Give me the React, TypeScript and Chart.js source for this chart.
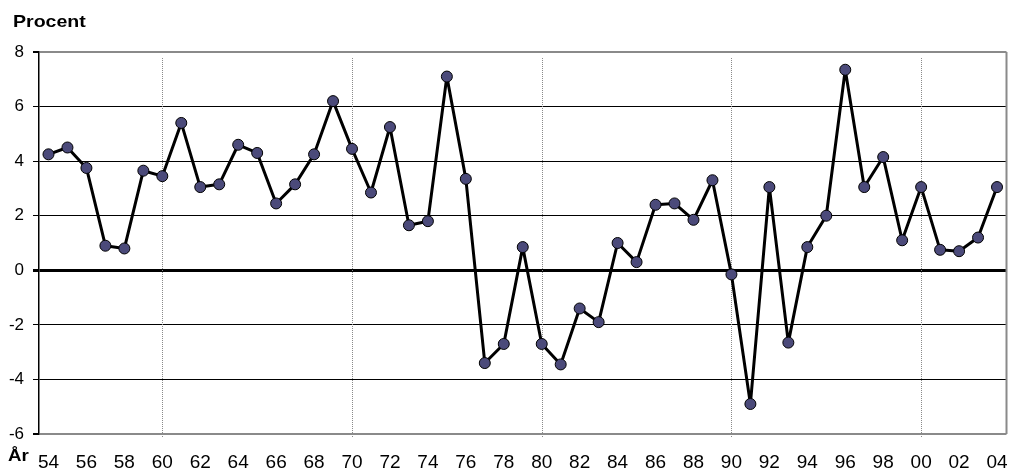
import React, { useEffect, useRef } from "react";
import { Chart, registerables } from "chart.js";

Chart.register(...registerables);

const years = [
  "54", "55", "56", "57", "58", "59", "60", "61", "62", "63",
  "64", "65", "66", "67", "68", "69", "70", "71", "72", "73",
  "74", "75", "76", "77", "78", "79", "80", "81", "82", "83",
  "84", "85", "86", "87", "88", "89", "90", "91", "92", "93",
  "94", "95", "96", "97", "98", "99", "00", "01", "02", "03", "04",
];

const values = [
  4.25, 4.5, 3.75, 0.9, 0.8, 3.65, 3.45, 5.4, 3.05, 3.15,
  4.6, 4.3, 2.45, 3.15, 4.25, 6.2, 4.45, 2.85, 5.25, 1.65,
  1.8, 7.1, 3.35, -3.4, -2.7, 0.85, -2.7, -3.45, -1.4, -1.9,
  1.0, 0.3, 2.4, 2.45, 1.85, 3.3, -0.15, -4.9, 3.05, -2.65,
  0.85, 2.0, 7.35, 3.05, 4.15, 1.1, 3.05, 0.75, 0.7, 1.2, 3.05,
];

const decadeLabels = ["60", "70", "80", "90", "00"];

const yMin = -6;
const yMax = 8;
const yStep = 2;

const FONT = '"Liberation Sans", Arial, sans-serif';

const decadePlugin = {
  id: "decadeLines",
  beforeDatasetsDraw(chart: any) {
    const { ctx, chartArea, scales } = chart;
    const x = scales.x;
    ctx.save();
    ctx.strokeStyle = "#8a8a8a";
    ctx.lineWidth = 1;
    ctx.setLineDash([1, 1]);
    decadeLabels.forEach((lab) => {
      const idx = years.indexOf(lab);
      const px = Math.round(x.getPixelForValue(idx)) + 0.5;
      ctx.beginPath();
      ctx.moveTo(px, chartArea.top + 6);
      ctx.lineTo(px, chartArea.bottom + 3);
      ctx.stroke();
    });
    ctx.setLineDash([]);
    ctx.strokeStyle = "#8a8a8a";
    ctx.lineWidth = 2;
    ctx.beginPath();
    ctx.moveTo(chartArea.right, chartArea.top);
    ctx.lineTo(chartArea.right, chartArea.bottom);
    ctx.stroke();
    ctx.restore();
  },
};

export default function App() {
  const ref = useRef<HTMLCanvasElement | null>(null);

  useEffect(() => {
    if (!ref.current) return;
    const chart = new Chart(ref.current, {
      type: "line",
      data: {
        labels: years,
        datasets: [
          {
            data: values,
            borderColor: "#000000",
            borderWidth: 3,
            borderJoinStyle: "round",
            borderCapStyle: "round",
            pointRadius: 5.5,
            pointBackgroundColor: "#4b4a7a",
            pointBorderColor: "#000000",
            pointBorderWidth: 1,
            tension: 0,
          },
        ],
      },
      options: {
        responsive: false,
        animation: false,
        devicePixelRatio: 1,
        layout: { padding: { top: 52, right: 1, left: 0, bottom: 0 } },
        plugins: {
          legend: { display: false },
          tooltip: { enabled: false },
        },
        scales: {
          x: {
            type: "category",
            offset: true,
            grid: { display: false },
            border: { display: false },
            ticks: {
              autoSkip: false,
              maxRotation: 0,
              minRotation: 0,
              padding: 9,
              color: "#000",
              font: { family: FONT, size: 19 },
              callback: (_v: any, i: number) => (i % 2 === 0 ? years[i] : ""),
            },
            afterFit: (s: any) => {
              s.height = 34;
              s.paddingLeft = 0;
              s.paddingRight = 0;
            },
          },
          y: {
            min: yMin,
            max: yMax,
            ticks: {
              stepSize: yStep,
              padding: 9,
              color: "#000",
              font: { family: FONT, size: 17 },
            },
            border: { display: true, color: "#000", width: 1.5 },
            grid: {
              drawTicks: true,
              tickLength: 6,
              tickColor: "#000",
              color: (c: any) => {
                const v = c.tick?.value;
                if (v === yMax || v === yMin) return "#8a8a8a";
                return "#000";
              },
              lineWidth: (c: any) => {
                const v = c.tick?.value;
                if (v === 0) return 3;
                if (v === yMax || v === yMin) return 2;
                return 1;
              },
            },
            afterFit: (s: any) => {
              s.width = 39;
              s.paddingTop = 0;
              s.paddingBottom = 0;
            },
          },
        },
      },
      plugins: [decadePlugin],
    });
    return () => chart.destroy();
  }, []);

  const labelStyle: React.CSSProperties = {
    position: "absolute",
    fontFamily: FONT,
    fontWeight: "bold",
    fontSize: 17,
    lineHeight: "17px",
    color: "#000",
    whiteSpace: "nowrap",
  };

  return (
    <div style={{ position: "fixed", left: 0, top: 0, width: 1013, height: 468, background: "#fff" }}>
      <canvas ref={ref} width={1013} height={468} style={{ display: "block" }} />
      <div style={{ ...labelStyle, left: 13, top: 13, transform: "scaleX(1.15)", transformOrigin: "left top" }}>Procent</div>
      <div style={{ ...labelStyle, left: 8, top: 447, transform: "scaleX(1.1)", transformOrigin: "left top" }}>År</div>
    </div>
  );
}
